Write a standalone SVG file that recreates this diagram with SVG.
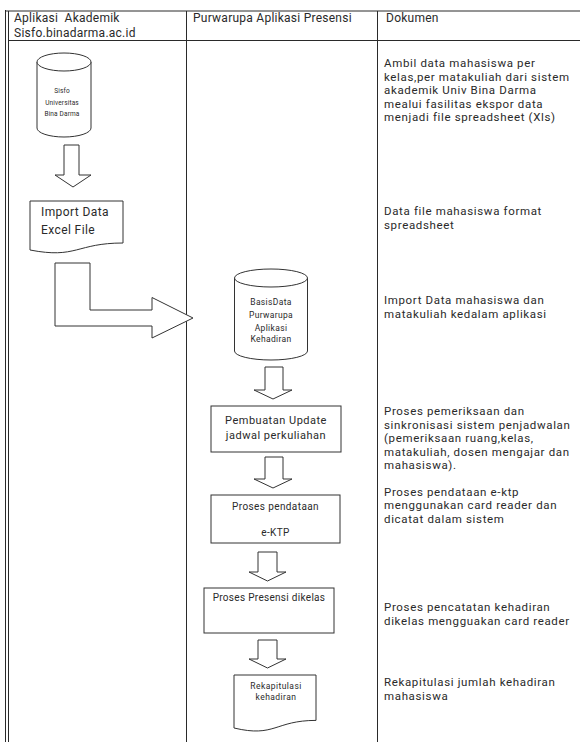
<svg xmlns="http://www.w3.org/2000/svg" width="580" height="742" viewBox="0 0 580 742">
<style>
.grid{stroke:#2a2a2a;stroke-width:1;fill:none}
.shape{fill:#fff;stroke:#333;stroke-width:1}
.t{font-family:Roboto,"Open Sans","Liberation Sans",sans-serif;fill:#2a2a2a;white-space:pre}
.h{font-size:12px;letter-spacing:0.25px}
.d{font-size:11.5px;letter-spacing:0.65px}
.c{text-anchor:middle}
</style>
<rect width="580" height="742" fill="#fff"/>
<g id="table">
<line class="grid" x1="5.5" y1="10" x2="5.5" y2="742" stroke-width="1.5"/>
<line class="grid" x1="8.5" y1="11" x2="8.5" y2="742"/>
<line class="grid" x1="5" y1="11" x2="580" y2="11" stroke-width="1.5"/>
<line class="grid" x1="8.5" y1="40.5" x2="580" y2="40.5"/>
<line class="grid" x1="186.5" y1="11" x2="186.5" y2="742"/>
<line class="grid" x1="377.5" y1="11" x2="377.5" y2="742"/>
<text class="t h" x="14" y="22" xml:space="preserve">Aplikasi  Akademik</text>
<text class="t h" x="14" y="37">Sisfo.binadarma.ac.id</text>
<text class="t h" x="193" y="22">Purwarupa Aplikasi Presensi</text>
<text class="t h" x="386" y="22">Dokumen</text>
</g>
<g id="node-sisfo">
<path class="shape" d="M37,62 A27,9 0 0 1 91,62 L91,128 A27,9 0 0 1 37,128 Z"/>
<path class="shape" fill="none" d="M37,62 A27,9 0 0 0 91,62"/>
<text class="t c" font-size="6.5" letter-spacing="0.15" x="62" y="92.5">Sisfo</text>
<text class="t c" font-size="6.5" letter-spacing="0.15" x="62" y="104.5">Universitas</text>
<text class="t c" font-size="6.5" letter-spacing="0.15" x="62" y="115.5">Bina Darma</text>
</g>
<g id="node-import">
<path class="shape" d="M30,201 H123 V243 C76.5,243 76.5,259.1 30,250 Z"/>
<text class="t" font-size="12" letter-spacing="0.4" x="41" y="216">Import Data</text>
<text class="t" font-size="12" letter-spacing="0.4" x="41" y="234">Excel File</text>
</g>
<g id="node-basisdata">
<path class="shape" d="M234.5,278 A36.5,9 0 0 1 307.5,278 L307.5,351 A36.5,9 0 0 1 234.5,351 Z"/>
<path class="shape" d="M234.5,278 A36.5,9 0 0 0 307.5,278"/>
<text class="t c" font-size="8.5" letter-spacing="0.35" x="271" y="305">BasisData</text>
<text class="t c" font-size="8.5" letter-spacing="0.35" x="271" y="318">Purwarupa</text>
<text class="t c" font-size="8.5" letter-spacing="0.35" x="271" y="331">Aplikasi</text>
<text class="t c" font-size="8.5" letter-spacing="0.35" x="271" y="342">Kehadiran</text>
</g>
<g id="node-jadwal">
<rect class="shape" x="211" y="406" width="130" height="46"/>
<text class="t c" font-size="11" letter-spacing="0.5" x="276" y="424">Pembuatan Update</text>
<text class="t c" font-size="11" letter-spacing="0.5" x="276" y="439">jadwal perkuliahan</text>
</g>
<g id="node-ektp">
<rect class="shape" x="211" y="495" width="129" height="48"/>
<text class="t c" font-size="10" letter-spacing="0.4" x="275.5" y="510">Proses pendataan</text>
<text class="t c" font-size="10" letter-spacing="0.4" x="275.5" y="536">e-KTP</text>
</g>
<g id="node-presensi">
<rect class="shape" x="204" y="588" width="130" height="45"/>
<text class="t c" font-size="10" letter-spacing="0.3" x="269" y="601">Proses Presensi dikelas</text>
</g>
<g id="node-rekap">
<path class="shape" d="M234,675 H316 V720.4 C275,720.4 275,737.8 234,728 Z"/>
<text class="t c" font-size="8.5" letter-spacing="0.45" x="276" y="689">Rekapitulasi</text>
<text class="t c" font-size="8.5" letter-spacing="0.45" x="276" y="700">kehadiran</text>
</g>
<g id="connectors">
<polygon class="shape" points="64,145 79,145 79,175 91,175 73,187 55,175 64,175"/>
<polygon class="shape" points="55,263 90,263 90,310 152,310 152,297.5 193,318 152,338 152,326 55,326"/>
<polygon class="shape" points="265,367 283,367 283,390 292,390 273,399 254,390 265,390"/>
<polygon class="shape" points="265,457 283,457 283,479 292,479 273,488 254,479 265,479"/>
<polygon class="shape" points="258,552 277,552 277,572 286,572 267.5,581 249,572 258,572"/>
<polygon class="shape" points="258,640 277,640 277,659 286,659 267.5,668 249,659 258,659"/>
</g>
<g id="docs">
<text class="t d" x="384" y="67">Ambil data mahasiswa per</text>
<text class="t d" x="384" y="80.5">kelas,per matakuliah dari sistem</text>
<text class="t d" x="384" y="94">akademik Univ Bina Darma</text>
<text class="t d" x="384" y="107.5">mealui fasilitas ekspor data</text>
<text class="t d" x="384" y="121">menjadi file spreadsheet (Xls)</text>
<text class="t d" x="384" y="215">Data file mahasiswa format</text>
<text class="t d" x="384" y="228.5">spreadsheet</text>
<text class="t d" x="384" y="304">Import Data mahasiswa dan</text>
<text class="t d" x="384" y="317.5">matakuliah kedalam aplikasi</text>
<text class="t d" x="384" y="415">Proses pemeriksaan dan</text>
<text class="t d" x="384" y="428.5">sinkronisasi sistem penjadwalan</text>
<text class="t d" x="384" y="442">(pemeriksaan ruang,kelas,</text>
<text class="t d" x="384" y="455.5">matakuliah, dosen mengajar dan</text>
<text class="t d" x="384" y="469">mahasiswa).</text>
<text class="t d" x="384" y="495.5">Proses pendataan e-ktp</text>
<text class="t d" x="384" y="509">menggunakan card reader dan</text>
<text class="t d" x="384" y="522.5">dicatat dalam sistem</text>
<text class="t d" x="384" y="611">Proses pencatatan kehadiran</text>
<text class="t d" x="384" y="624.5">dikelas mengguakan card reader</text>
<text class="t d" x="384" y="686">Rekapitulasi jumlah kehadiran</text>
<text class="t d" x="384" y="699.5">mahasiswa</text>
</g>
</svg>
